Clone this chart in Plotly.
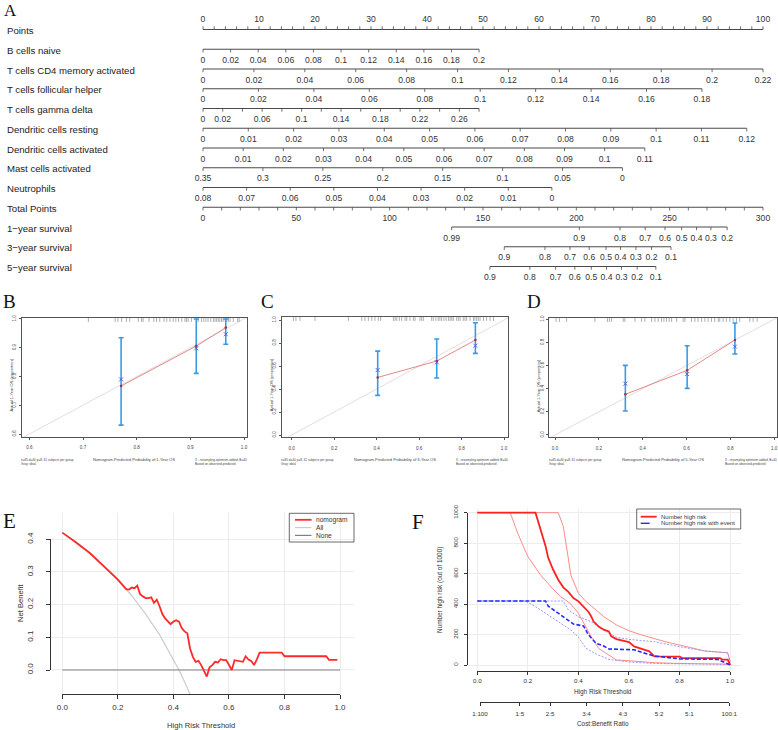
import plotly.graph_objects as go

W, H = 778, 730
SANS = "Liberation Sans, Arial, sans-serif"
SERIF = "Liberation Serif, Times New Roman, serif"


def px(x):
    return x / W


def py(y):
    return 1 - y / H


# ======================= Panel A : nomogram data =======================
row_names = ["Points", "B cells naive", "T cells CD4 memory activated",
             "T cells follicular helper", "T cells gamma delta",
             "Dendritic cells resting", "Dendritic cells activated",
             "Mast cells activated", "Neutrophils", "Total Points",
             "1\u2212year survival", "3\u2212year survival", "5\u2212year survival"]

points_major = [0, 10, 20, 30, 40, 50, 60, 70, 80, 90, 100]
points_minor = list(range(0, 101, 2))

# predictor rows: tick values, labelled values, (value_a, points_a, value_b, points_b)
bn_ticks = [0, 0.02, 0.04, 0.06, 0.08, 0.1, 0.12, 0.14, 0.16, 0.18, 0.2]
bn_labels = bn_ticks
bn_map = (0, 0, 0.2, 49.3)

cd4_ticks = [0, 0.02, 0.04, 0.06, 0.08, 0.1, 0.12, 0.14, 0.16, 0.18, 0.2, 0.22]
cd4_labels = cd4_ticks
cd4_map = (0, 0, 0.22, 100)

tfh_ticks = [0, 0.02, 0.04, 0.06, 0.08, 0.1, 0.12, 0.14, 0.16, 0.18]
tfh_labels = tfh_ticks
tfh_map = (0, 0, 0.18, 89.1)

tgd_ticks = [0, 0.02, 0.04, 0.06, 0.08, 0.1, 0.12, 0.14, 0.16, 0.18, 0.2, 0.22, 0.24, 0.26, 0.28]
tgd_labels = [0, 0.02, 0.06, 0.1, 0.14, 0.18, 0.22, 0.26]
tgd_map = (0, 0, 0.28, 49.3)

dcr_ticks = [0, 0.01, 0.02, 0.03, 0.04, 0.05, 0.06, 0.07, 0.08, 0.09, 0.1, 0.11, 0.12]
dcr_labels = dcr_ticks
dcr_map = (0, 0, 0.12, 97.1)

dca_ticks = [0, 0.01, 0.02, 0.03, 0.04, 0.05, 0.06, 0.07, 0.08, 0.09, 0.1, 0.11]
dca_labels = dca_ticks
dca_map = (0, 0, 0.11, 78.9)

mast_ticks = [0.35, 0.3, 0.25, 0.2, 0.15, 0.1, 0.05, 0]
mast_labels = mast_ticks
mast_map = (0.35, 0, 0, 74.9)

neu_ticks = [0.08, 0.07, 0.06, 0.05, 0.04, 0.03, 0.02, 0.01, 0]
neu_labels = neu_ticks
neu_map = (0.08, 0, 0, 62.3)

total_major = [0, 50, 100, 150, 200, 250, 300]
total_minor = list(range(0, 301, 10))
total_map = (0, 0, 300, 100)

surv1_labels = ["0.99", "0.9", "0.8", "0.7", "0.6", "0.5", "0.4", "0.3", "0.2"]
surv1_total = [133.2, 201.6, 223.4, 236.9, 247.5, 256.4, 264.4, 272.1, 280.8]
surv3_labels = ["0.9", "0.8", "0.7", "0.6", "0.5", "0.4", "0.3", "0.2", "0.1"]
surv3_total = [161.4, 183.2, 196.6, 206.9, 215.9, 223.7, 231.9, 240.3, 250.7]
surv5_labels = ["0.9", "0.8", "0.7", "0.6", "0.5", "0.4", "0.3", "0.2", "0.1"]
surv5_total = [153.7, 175.1, 188.9, 199.2, 208.0, 216.2, 224.2, 232.6, 242.6]

# ======================= Panels B-D : calibration data =======================
cal1_pred = [0.771, 0.911, 0.966]
cal1_apparent = [0.767, 0.906, 0.970]
cal1_observed = [0.790, 0.898, 0.947]
cal1_lower = [0.631, 0.811, 0.912]
cal1_upper = [0.935, 1.0, 1.0]
cal1_rug = [0.71, 0.76, 0.765, 0.772, 0.781, 0.787, 0.803, 0.809, 0.812, 0.823, 0.832,
            0.837, 0.843, 0.851, 0.856, 0.862, 0.868, 0.873, 0.878, 0.884, 0.890, 0.893,
            0.896, 0.902, 0.912, 0.915, 0.921, 0.925, 0.929, 0.933, 0.938, 0.943, 0.946,
            0.949, 0.952, 0.955, 0.958, 0.961, 0.965, 0.968, 0.971, 0.974, 0.980, 0.988, 0.991]

cal3_pred = [0.405, 0.683, 0.865]
cal3_apparent = [0.501, 0.643, 0.826]
cal3_observed = [0.565, 0.632, 0.777]
cal3_lower = [0.345, 0.496, 0.710]
cal3_upper = [0.730, 0.835, 0.977]
cal3_rug = [0.008, 0.02, 0.039, 0.11, 0.267, 0.33, 0.345, 0.361, 0.377, 0.392, 0.408, 0.419,
            0.479, 0.487, 0.495, 0.507, 0.518, 0.534, 0.542, 0.557, 0.573, 0.581, 0.604,
            0.612, 0.62, 0.659, 0.667, 0.679, 0.69, 0.698, 0.706, 0.717, 0.727, 0.738,
            0.746, 0.754, 0.761, 0.777, 0.785, 0.793, 0.808, 0.816, 0.824, 0.840, 0.856,
            0.863, 0.871, 0.879, 0.887, 0.903, 0.918, 0.934, 0.95]

cal5_pred = [0.321, 0.603, 0.821]
cal5_apparent = [0.352, 0.559, 0.821]
cal5_observed = [0.444, 0.527, 0.764]
cal5_lower = [0.207, 0.403, 0.700]
cal5_upper = [0.602, 0.772, 0.968]
cal5_rug = [0.005, 0.02, 0.053, 0.182, 0.239, 0.248, 0.258, 0.311, 0.319, 0.365, 0.395,
            0.41, 0.441, 0.456, 0.471, 0.486, 0.497, 0.509, 0.521, 0.532, 0.555, 0.585,
            0.593, 0.623, 0.638, 0.653, 0.669, 0.684, 0.699, 0.714, 0.729, 0.745, 0.752,
            0.767, 0.782, 0.798, 0.813, 0.828, 0.843, 0.889, 0.904, 0.922]

ideal_line = [-0.1, 1.1]

# ======================= Panel E : decision curve =======================
dca_thr = [0, 0.05, 0.1, 0.15, 0.2, 0.23, 0.24, 0.25, 0.26, 0.27, 0.28, 0.29, 0.30, 0.31,
           0.32, 0.33, 0.34, 0.35, 0.36, 0.37, 0.38, 0.39, 0.40, 0.41, 0.42, 0.43, 0.44,
           0.45, 0.46, 0.47, 0.48, 0.49, 0.50, 0.51, 0.52, 0.53, 0.54, 0.55, 0.56, 0.57,
           0.58, 0.59, 0.60, 0.61, 0.62, 0.63, 0.64, 0.65, 0.66, 0.67, 0.68, 0.69, 0.70,
           0.71, 0.79, 0.80, 0.95, 0.96, 0.99]
dca_nomogram = [0.420, 0.390, 0.357, 0.318, 0.276, 0.247, 0.246, 0.252, 0.250, 0.258,
                0.232, 0.225, 0.220, 0.220, 0.222, 0.205, 0.215, 0.195, 0.171, 0.158,
                0.148, 0.140, 0.148, 0.152, 0.148, 0.128, 0.118, 0.112, 0.065, 0.040,
                0.025, 0.028, 0.015, -0.005, -0.020, 0.008, 0.015, 0.025, 0.023, 0.033,
                0.030, 0.030, 0.015, 0.0, 0.030, 0.028, 0.027, 0.025, 0.042, 0.032,
                0.028, 0.015, 0.032, 0.053, 0.053, 0.042, 0.042, 0.031, 0.031]
all_thr = [0, 0.05, 0.1, 0.15, 0.2, 0.25, 0.3, 0.35, 0.4, 0.42, 0.44, 0.46, 0.47]
all_nb = [0.420, 0.389, 0.356, 0.318, 0.275, 0.227, 0.171, 0.108, 0.033, 0.0, -0.036, -0.074, -0.094]
none_thr = [0, 1.0]
none_nb = [0, 0]

# ======================= Panel F : clinical impact =======================
hr_thr = [0, 0.23, 0.25, 0.27, 0.28, 0.30, 0.32, 0.34, 0.36, 0.38, 0.40, 0.42, 0.43, 0.44,
          0.45, 0.46, 0.48, 0.50, 0.52, 0.53, 0.55, 0.57, 0.60, 0.62, 0.65, 0.68, 0.70,
          0.80, 0.81, 0.96, 0.97, 0.99, 1.0]
hr_n = [1000, 1000, 890, 780, 705, 625, 560, 510, 480, 440, 418, 380, 365, 348, 320, 285,
        252, 232, 220, 188, 170, 160, 150, 122, 105, 90, 57, 55, 45, 45, 35, 35, 0]
hr_hi_thr = [0, 0.32, 0.34, 0.35, 0.37, 0.40, 0.43, 0.47, 0.50, 0.55, 0.60, 0.65, 0.70,
             0.75, 0.80, 0.85, 0.90, 0.95, 0.99, 1.0]
hr_hi_n = [1000, 1000, 910, 800, 590, 470, 416, 361, 317, 263, 225, 197, 171, 150, 131,
           110, 92, 85, 80, 20]
hr_lo_thr = [0, 0.13, 0.16, 0.2, 0.25, 0.30, 0.33, 0.37, 0.40, 0.43, 0.45, 0.48, 0.52,
             0.55, 0.6, 0.7, 0.8, 1.0]
hr_lo_n = [1000, 1000, 864, 711, 591, 497, 449, 400, 339, 252, 186, 109, 66, 33, 28, 15, 10, 5]

ev_thr = [0, 0.27, 0.28, 0.32, 0.35, 0.38, 0.42, 0.44, 0.47, 0.50, 0.52, 0.60, 0.62,
          0.65, 0.70, 0.75, 0.80, 0.95, 1.0]
ev_n = [420, 420, 387, 339, 306, 269, 256, 197, 142, 125, 105, 103, 100, 83, 59, 50, 40, 37, 0]
ev_hi_thr = [0, 0.34, 0.36, 0.40, 0.45, 0.50, 0.55, 0.60, 0.70, 0.80, 0.90, 0.95, 0.99, 1.0]
ev_hi_n = [420, 420, 361, 317, 284, 230, 182, 168, 153, 120, 92, 85, 80, 20]
ev_lo_thr = [0, 0.19, 0.23, 0.28, 0.33, 0.37, 0.40, 0.43, 0.47, 0.52, 0.6, 0.7, 0.8, 1.0]
ev_lo_n = [420, 420, 383, 328, 274, 230, 182, 109, 72, 37, 20, 10, 8, 5]

cb_ticks = [0.0099, 0.1667, 0.2857, 0.4286, 0.5714, 0.7143, 0.8333, 0.9901]
cb_labels = ["1:100", "1:5", "2:5", "3:4", "4:3", "5:2", "5:1", "100:1"]

# ======================= build figure =======================
fig = go.Figure()
annotations = []
shapes = []


def note(x, y, text, size, xanchor="center", yanchor="middle", color="#333333", angle=0,
         family=SANS, align="center", yref="paper"):
    annotations.append(dict(x=x, y=y, xref="paper", yref=yref, text=text, showarrow=False,
                            xanchor=xanchor, yanchor=yanchor, textangle=angle, align=align,
                            font=dict(size=size, color=color, family=family), borderpad=0))


# ---------- Panel A (nomogram on x / y; y in pixel rows) ----------
ROW0, ROWH, TL = 29.5, 19.75, 3.2
line_x, line_y, tick_x, tick_y = [], [], [], []
lab_x, lab_y, lab_t = [], [], []


def fmt(v):
    return "%g" % v


def lin(m):
    va, pa, vb, pb = m
    return lambda v: pa + (v - va) * (pb - pa) / (vb - va)


def add_row(i, span, tick_pts, label_pts, label_txt, up=False):
    ry = ROW0 + ROWH * i
    line_x.extend([span[0], span[1], None])
    line_y.extend([ry, ry, None])
    d = -TL if up else TL
    for p in tick_pts:
        tick_x.extend([p, p, None])
        tick_y.extend([ry, ry + d, None])
    for p, t in zip(label_pts, label_txt):
        lab_x.append(p)
        lab_y.append(ry - 9.5 if up else ry + 11.5)
        lab_t.append(t)


add_row(0, (0, 100), points_minor, points_major, [fmt(v) for v in points_major], up=True)

predictors = [(bn_ticks, bn_labels, bn_map), (cd4_ticks, cd4_labels, cd4_map),
              (tfh_ticks, tfh_labels, tfh_map), (tgd_ticks, tgd_labels, tgd_map),
              (dcr_ticks, dcr_labels, dcr_map), (dca_ticks, dca_labels, dca_map),
              (mast_ticks, mast_labels, mast_map), (neu_ticks, neu_labels, neu_map)]
for k, (tk, lb, mp) in enumerate(predictors):
    f = lin(mp)
    add_row(k + 1, (mp[1], mp[3]), [f(v) for v in tk], [f(v) for v in lb], [fmt(v) for v in lb])

ft = lin(total_map)
add_row(9, (0, 100), [ft(v) for v in total_minor], [ft(v) for v in total_major],
        [fmt(v) for v in total_major])
for k, (tp, lb) in enumerate([(surv1_total, surv1_labels), (surv3_total, surv3_labels),
                              (surv5_total, surv5_labels)]):
    pts = [ft(v) for v in tp]
    add_row(10 + k, (pts[0], pts[-1]), pts, pts, lb)

fig.add_trace(go.Scatter(x=line_x, y=line_y, mode="lines", line=dict(color="#4a4a4a", width=1.1),
                         xaxis="x", yaxis="y", hoverinfo="skip", showlegend=False))
fig.add_trace(go.Scatter(x=tick_x, y=tick_y, mode="lines", line=dict(color="#4a4a4a", width=0.8),
                         xaxis="x", yaxis="y", hoverinfo="skip", showlegend=False))
fig.add_trace(go.Scatter(x=lab_x, y=lab_y, mode="text", text=lab_t,
                         textfont=dict(size=8.6, color="#333333", family=SANS),
                         xaxis="x", yaxis="y", hoverinfo="skip", showlegend=False, cliponaxis=False))
for i, nm in enumerate(row_names):
    note(px(6), ROW0 + ROWH * i + 1, nm, 9.6, xanchor="left", color="#222222", yref="y")

# ---------- Panels B-D ----------
cal_panels = [
    dict(ax="2", pred=cal1_pred, app=cal1_apparent, obs=cal1_observed, lo=cal1_lower,
         hi=cal1_upper, rug=cal1_rug, box=(21.7, 246.7, 317.7, 436.7), xr=[0.5858, 1.005],
         yr=[0.5906, 1.0045], ticks=[0.6, 0.7, 0.8, 0.9, 1.0], yr_name="1", xt_name="1"),
    dict(ax="3", pred=cal3_pred, app=cal3_apparent, obs=cal3_observed, lo=cal3_lower,
         hi=cal3_upper, rug=cal3_rug, box=(281.7, 508.3, 316.7, 437.3), xr=[-0.047, 1.02],
         yr=[-0.02, 1.029], ticks=[0, 0.2, 0.4, 0.6, 0.8, 1.0], yr_name="1", xt_name="3"),
    dict(ax="4", pred=cal5_pred, app=cal5_apparent, obs=cal5_observed, lo=cal5_lower,
         hi=cal5_upper, rug=cal5_rug, box=(549.3, 777.0, 317.7, 437.3), xr=[-0.026, 1.013],
         yr=[-0.02, 1.014], ticks=[0, 0.2, 0.4, 0.6, 0.8, 1.0], yr_name="1", xt_name="5"),
]
layout_axes = {}
for c in cal_panels:
    a = c["ax"]
    xa, ya = "x" + a, "y" + a
    fig.add_trace(go.Scatter(x=ideal_line, y=ideal_line, mode="lines",
                             line=dict(color="#e2d8d8", width=0.9), xaxis=xa, yaxis=ya,
                             hoverinfo="skip", showlegend=False))
    fig.add_trace(go.Scatter(x=c["rug"], y=[c["yr"][1]] * len(c["rug"]), mode="markers",
                             marker=dict(symbol="line-ns-open", size=6, color="#777777",
                                         line=dict(color="#777777", width=0.6)),
                             xaxis=xa, yaxis=ya, hoverinfo="skip", showlegend=False))
    fig.add_trace(go.Scatter(x=c["pred"], y=c["obs"], mode="markers",
                             marker=dict(symbol="x-thin-open", size=4, color="#4a5ae8",
                                         line=dict(color="#4a5ae8", width=0.9)),
                             error_y=dict(type="data", symmetric=False,
                                          array=[h - o for h, o in zip(c["hi"], c["obs"])],
                                          arrayminus=[o - l for o, l in zip(c["obs"], c["lo"])],
                                          color="#3a9ae6", thickness=1.6, width=2.5),
                             xaxis=xa, yaxis=ya, hoverinfo="skip", showlegend=False))
    fig.add_trace(go.Scatter(x=c["pred"], y=c["app"], mode="lines+markers",
                             line=dict(color="#e07a7a", width=0.9),
                             marker=dict(size=2.5, color="#a83030"),
                             xaxis=xa, yaxis=ya, hoverinfo="skip", showlegend=False))
    x0, x1, y0, y1 = c["box"]
    common = dict(showline=True, mirror=True, linecolor="#555555", linewidth=0.7,
                  ticks="outside", ticklen=2, tickwidth=0.6, tickcolor="#555555",
                  tickfont=dict(size=4.6, color="#444444"), showgrid=False, zeroline=False,
                  tickvals=c["ticks"], tickformat=".1f", automargin=False)
    layout_axes["xaxis" + a] = dict(domain=[px(x0), px(x1)], range=c["xr"], anchor=ya,
                                    ticklabelstandoff=4, **common)
    layout_axes["yaxis" + a] = dict(domain=[py(y1), py(y0)], range=c["yr"], anchor=xa,
                                    tickangle=-90, ticklabelstandoff=1, **common)
    cx = (x0 + x1) / 2
    note(px(cx), py(459.5), "Nomogram-Predicted Probability of %s-Year OS" % c["xt_name"], 4.0,
         color="#444444")
    note(px(x0 - 10.5), py((y0 + y1) / 2 + 8), "Actual %s-Year OS (proportion)" % c["yr_name"],
         4.0, color="#444444", angle=-90)
    note(px(x0 - 1.5), py(461.5), "n=85 d=40 p=8, 31 subjects per group<br>Gray: ideal", 3.1,
         xanchor="left", align="left", color="#444444")
    note(px(x1 + 1), py(461.5), "X - resampling optimism added, B=40<br>Based on observed-predicted",
         3.1, xanchor="right", align="left", color="#444444")

# ---------- Panel E ----------
fig.add_trace(go.Scatter(x=all_thr, y=all_nb, mode="lines", line=dict(color="#cccccc", width=1.2),
                         xaxis="x5", yaxis="y5", hoverinfo="skip", showlegend=False))
fig.add_trace(go.Scatter(x=none_thr, y=none_nb, mode="lines", line=dict(color="#808080", width=1.2),
                         xaxis="x5", yaxis="y5", hoverinfo="skip", showlegend=False))
fig.add_trace(go.Scatter(x=dca_thr, y=dca_nomogram, mode="lines",
                         line=dict(color="#ff2a2a", width=1.8),
                         xaxis="x5", yaxis="y5", hoverinfo="skip", showlegend=False))
grid = dict(showgrid=True, gridcolor="#ececec", gridwidth=0.7, showticklabels=False, ticks="",
            showline=False, zeroline=False, automargin=False)
layout_axes["xaxis5"] = dict(domain=[px(50), px(354)], range=[-0.0443, 1.05], anchor="y5",
                             tickvals=[0, 0.2, 0.4, 0.6, 0.8, 1.0], **grid)
layout_axes["yaxis5"] = dict(domain=[py(694), py(513)], range=[-0.0734, 0.48], anchor="x5",
                             tickvals=[0, 0.1, 0.2, 0.3, 0.4], **grid)
# R-style axes of panel E
fig.add_trace(go.Scatter(x=[0.5], y=[0.2], mode="markers", marker=dict(opacity=0),
                         xaxis="x7", yaxis="y7", hoverinfo="skip", showlegend=False))
deco = dict(showline=True, linecolor="#333333", linewidth=0.8, ticks="outside", tickcolor="#333333",
            tickwidth=0.8, showgrid=False, zeroline=False, automargin=False)
layout_axes["xaxis7"] = dict(domain=[px(62.3), px(340)], range=[0, 1], anchor="free",
                             position=py(694), tickvals=[0, 0.2, 0.4, 0.6, 0.8, 1.0],
                             tickformat=".1f", ticklen=4, ticklabelstandoff=1,
                             tickfont=dict(size=8, color="#333333"), **deco)
layout_axes["yaxis7"] = dict(domain=[py(670), py(539.3)], range=[0, 0.4], anchor="free",
                             position=px(50), tickvals=[0, 0.1, 0.2, 0.3, 0.4], tickformat=".1f",
                             ticklen=4, tickangle=-90, ticklabelstandoff=10,
                             tickfont=dict(size=8, color="#333333"), **deco)
note(px(201), py(725), "High Risk Threshold", 7.6)
note(px(20), py(603), "Net Benefit", 7.6, angle=-90)
# legend E
shapes.append(dict(type="rect", xref="paper", yref="paper", x0=px(289.3), x1=px(354),
                   y0=py(542), y1=py(513.3), line=dict(color="#444444", width=0.8)))
for nm, col, wd, yy in [("nomogram", "#ff2a2a", 1.8, 519.8), ("All", "#cccccc", 1.2, 527.6),
                        ("None", "#808080", 1.2, 535.4)]:
    shapes.append(dict(type="line", xref="paper", yref="paper", x0=px(295), x1=px(311.5),
                       y0=py(yy), y1=py(yy), line=dict(color=col, width=wd)))
    note(px(314.5), py(yy), nm, 6.6, xanchor="left")

# ---------- Panel F ----------
for xs, ys, col, wd, dash in [
        (hr_hi_thr, hr_hi_n, "#ff8a8a", 1.0, "solid"),
        (hr_lo_thr, hr_lo_n, "#ff8a8a", 1.0, "solid"),
        (ev_hi_thr, ev_hi_n, "#8c8cff", 0.9, "2px,1.5px"),
        (ev_lo_thr, ev_lo_n, "#8c8cff", 0.9, "2px,1.5px"),
        (hr_thr, hr_n, "#ff2020", 1.8, "solid"),
        (ev_thr, ev_n, "#2a2aff", 1.6, "4px,2px")]:
    fig.add_trace(go.Scatter(x=xs, y=ys, mode="lines", line=dict(color=col, width=wd, dash=dash),
                             xaxis="x6", yaxis="y6", hoverinfo="skip", showlegend=False))
layout_axes["xaxis6"] = dict(domain=[px(467.3), px(740.7)], range=[-0.0396, 1.0415], anchor="y6",
                             tickvals=[0, 0.2, 0.4, 0.6, 0.8, 1.0], **grid)
layout_axes["yaxis6"] = dict(domain=[py(671), py(509)], range=[-39.4, 1024], anchor="x6",
                             tickvals=[0, 200, 400, 600, 800, 1000], **grid)
fig.add_trace(go.Scatter(x=[0.5], y=[500], mode="markers", marker=dict(opacity=0),
                         xaxis="x8", yaxis="y8", hoverinfo="skip", showlegend=False))
fig.add_trace(go.Scatter(x=[0.5], y=[500], mode="markers", marker=dict(opacity=0),
                         xaxis="x9", yaxis="y8", hoverinfo="skip", showlegend=False))
layout_axes["xaxis8"] = dict(domain=[px(477.3), px(730)], range=[0, 1], anchor="free",
                             position=py(671), tickvals=[0, 0.2, 0.4, 0.6, 0.8, 1.0],
                             tickformat=".1f", ticklen=3, ticklabelstandoff=1,
                             tickfont=dict(size=6.2, color="#333333"), **deco)
layout_axes["yaxis8"] = dict(domain=[py(665), py(512.7)], range=[0, 1000], anchor="free",
                             position=px(467.3), tickvals=[0, 200, 400, 600, 800, 1000],
                             ticklen=3, tickangle=-90, ticklabelstandoff=4,
                             tickfont=dict(size=6.2, color="#333333"), **deco)
layout_axes["xaxis9"] = dict(domain=[px(480), px(729.3)], range=[cb_ticks[0], cb_ticks[-1]],
                             anchor="free", position=py(702.3), tickvals=cb_ticks,
                             ticktext=cb_labels, ticklen=3, ticklabelstandoff=2,
                             tickfont=dict(size=6.2, color="#333333"), **deco)
note(px(603), py(692.3), "High Risk Threshold", 6.4)
note(px(603), py(723), "Cost:Benefit Ratio", 6.4)
note(px(440), py(590), "Number high risk (out of 1000)", 6.4, angle=-90)
# legend F
shapes.append(dict(type="rect", xref="paper", yref="paper", x0=px(636.7), x1=px(740.7),
                   y0=py(529), y1=py(509), line=dict(color="#444444", width=0.8)))
for nm, col, wd, dash, yy in [("Number high risk", "#ff2020", 1.8, "solid", 516.7),
                              ("Number high risk with event", "#2a2aff", 1.4, "dash", 523.3)]:
    shapes.append(dict(type="line", xref="paper", yref="paper", x0=px(640.7), x1=px(656.7),
                       y0=py(yy), y1=py(yy), line=dict(color=col, width=wd, dash=dash)))
    note(px(659.5), py(yy), nm, 6.0, xanchor="left")

# ---------- panel letters ----------
for t, x, y, s in [("A", 2.5, 11, 17), ("B", 1.5, 301.5, 19), ("C", 259.5, 301.5, 19),
                   ("D", 525.5, 301, 19), ("E", 1.5, 520.5, 21), ("F", 411, 521.5, 21)]:
    note(px(x), py(y), t, s, xanchor="left", color="#111111", family=SERIF)

fig.update_layout(
    template="none",
    width=W, height=H, autosize=False,
    margin=dict(l=0, r=0, t=0, b=0, pad=0),
    paper_bgcolor="white", plot_bgcolor="rgba(0,0,0,0)",
    font=dict(family=SANS, color="#333333"),
    showlegend=False,
    xaxis=dict(domain=[0, 1], range=[-203 / 5.6, (W - 203) / 5.6], visible=False, anchor="y"),
    yaxis=dict(domain=[py(290), 1], range=[290, 0], visible=False, anchor="x"),
    annotations=annotations, shapes=shapes,
    **layout_axes,
)

fig.write_html("out.html", config={"displayModeBar": False},
               post_script="document.body.style.margin='0px';")
